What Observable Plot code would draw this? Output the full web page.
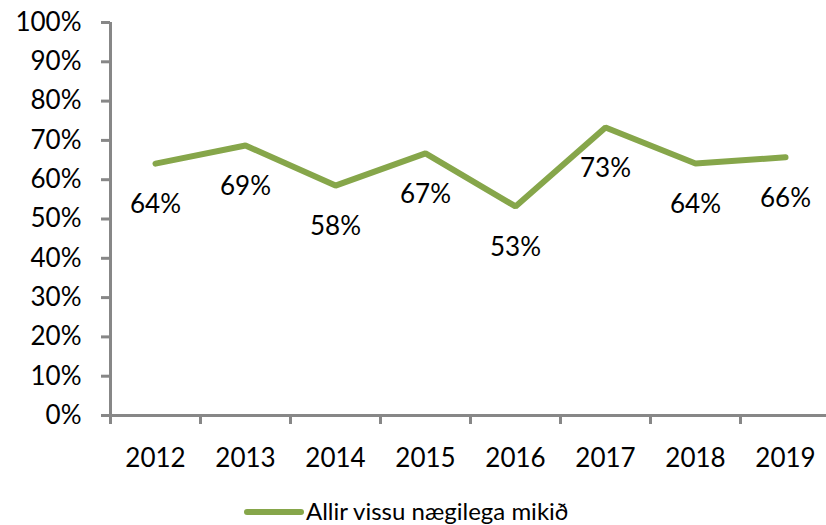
<!DOCTYPE html>
<html><head><meta charset="utf-8">
<script src="https://cdn.jsdelivr.net/npm/d3@7"></script>
<script src="https://cdn.jsdelivr.net/npm/@observablehq/plot@0.6"></script>
<style>
body{margin:0;background:#fff;font-family:Lato,sans-serif;overflow:hidden;}
#legend{position:absolute;left:0;top:494px;width:826px;height:31px;}
</style></head><body>
<div id="chart"></div>
<div id="legend"></div>
<script>
const years = [2012, 2013, 2014, 2015, 2016, 2017, 2018, 2019];
const values = [0.641, 0.687, 0.585, 0.667, 0.532, 0.733, 0.641, 0.657];
const valueLabels = ["64%", "69%", "58%", "67%", "53%", "73%", "64%", "66%"];
const yTicks = [0, 0.1, 0.2, 0.3, 0.4, 0.5, 0.6, 0.7, 0.8, 0.9, 1];
const seriesName = "Allir vissu nægilega mikið";
const green = "#86a64a";
const gray = "#878787";

const data = years.map((y, i) => ({year: y, value: values[i], label: valueLabels[i]}));
const bounds = years.map(y => y - 0.5).concat([years[years.length - 1] + 0.5]);

const chart = Plot.plot({
  width: 826, height: 494,
  marginLeft: 110, marginRight: 0, marginTop: 22, marginBottom: 79,
  style: {fontFamily: "Lato, sans-serif", overflow: "visible", background: "#fff"},
  x: {domain: [years[0] - 0.5, years[years.length - 1] + 0.5], range: [110, 830]},
  y: {domain: [0, 1], range: [415, 22]},
  marks: [
    Plot.axisY({ticks: yTicks, tickFormat: d => Math.round(d * 100) + "%", tickSize: 9, tickPadding: 20,
      stroke: gray, strokeWidth: 3, fontSize: 26, fill: "#000", label: null}),
    Plot.axisX({ticks: bounds, tickFormat: () => "", tickSize: 9, stroke: gray, strokeWidth: 3, label: null}),
    Plot.axisX({ticks: years, tickFormat: d => String(d), tickSize: 0, tickPadding: 33, fontSize: 26, fill: "#000", label: null}),
    Plot.ruleX([bounds[0]], {y1: 0, y2: 1, stroke: gray, strokeWidth: 3}),
    Plot.ruleY([0], {stroke: gray, strokeWidth: 3}),
    Plot.line(data, {x: "year", y: "value", stroke: green, strokeWidth: 6, strokeLinejoin: "miter", strokeLinecap: "round"}),
    Plot.text(data, {x: "year", y: "value", text: "label", dy: 41, fontSize: 26, fill: "#000"})
  ]
});
document.getElementById("chart").appendChild(chart);

const leg = d3.select("#legend").append("svg").attr("width", 826).attr("height", 31);
leg.append("line").attr("x1", 247).attr("x2", 301).attr("y1", 18).attr("y2", 18)
  .attr("stroke", green).attr("stroke-width", 6).attr("stroke-linecap", "round");
leg.append("text").attr("x", 306).attr("y", 18).attr("dy", "0.35em")
  .attr("font-size", 24).attr("font-family", "Lato, sans-serif").attr("fill", "#000").text(seriesName);
</script>
</body></html>
